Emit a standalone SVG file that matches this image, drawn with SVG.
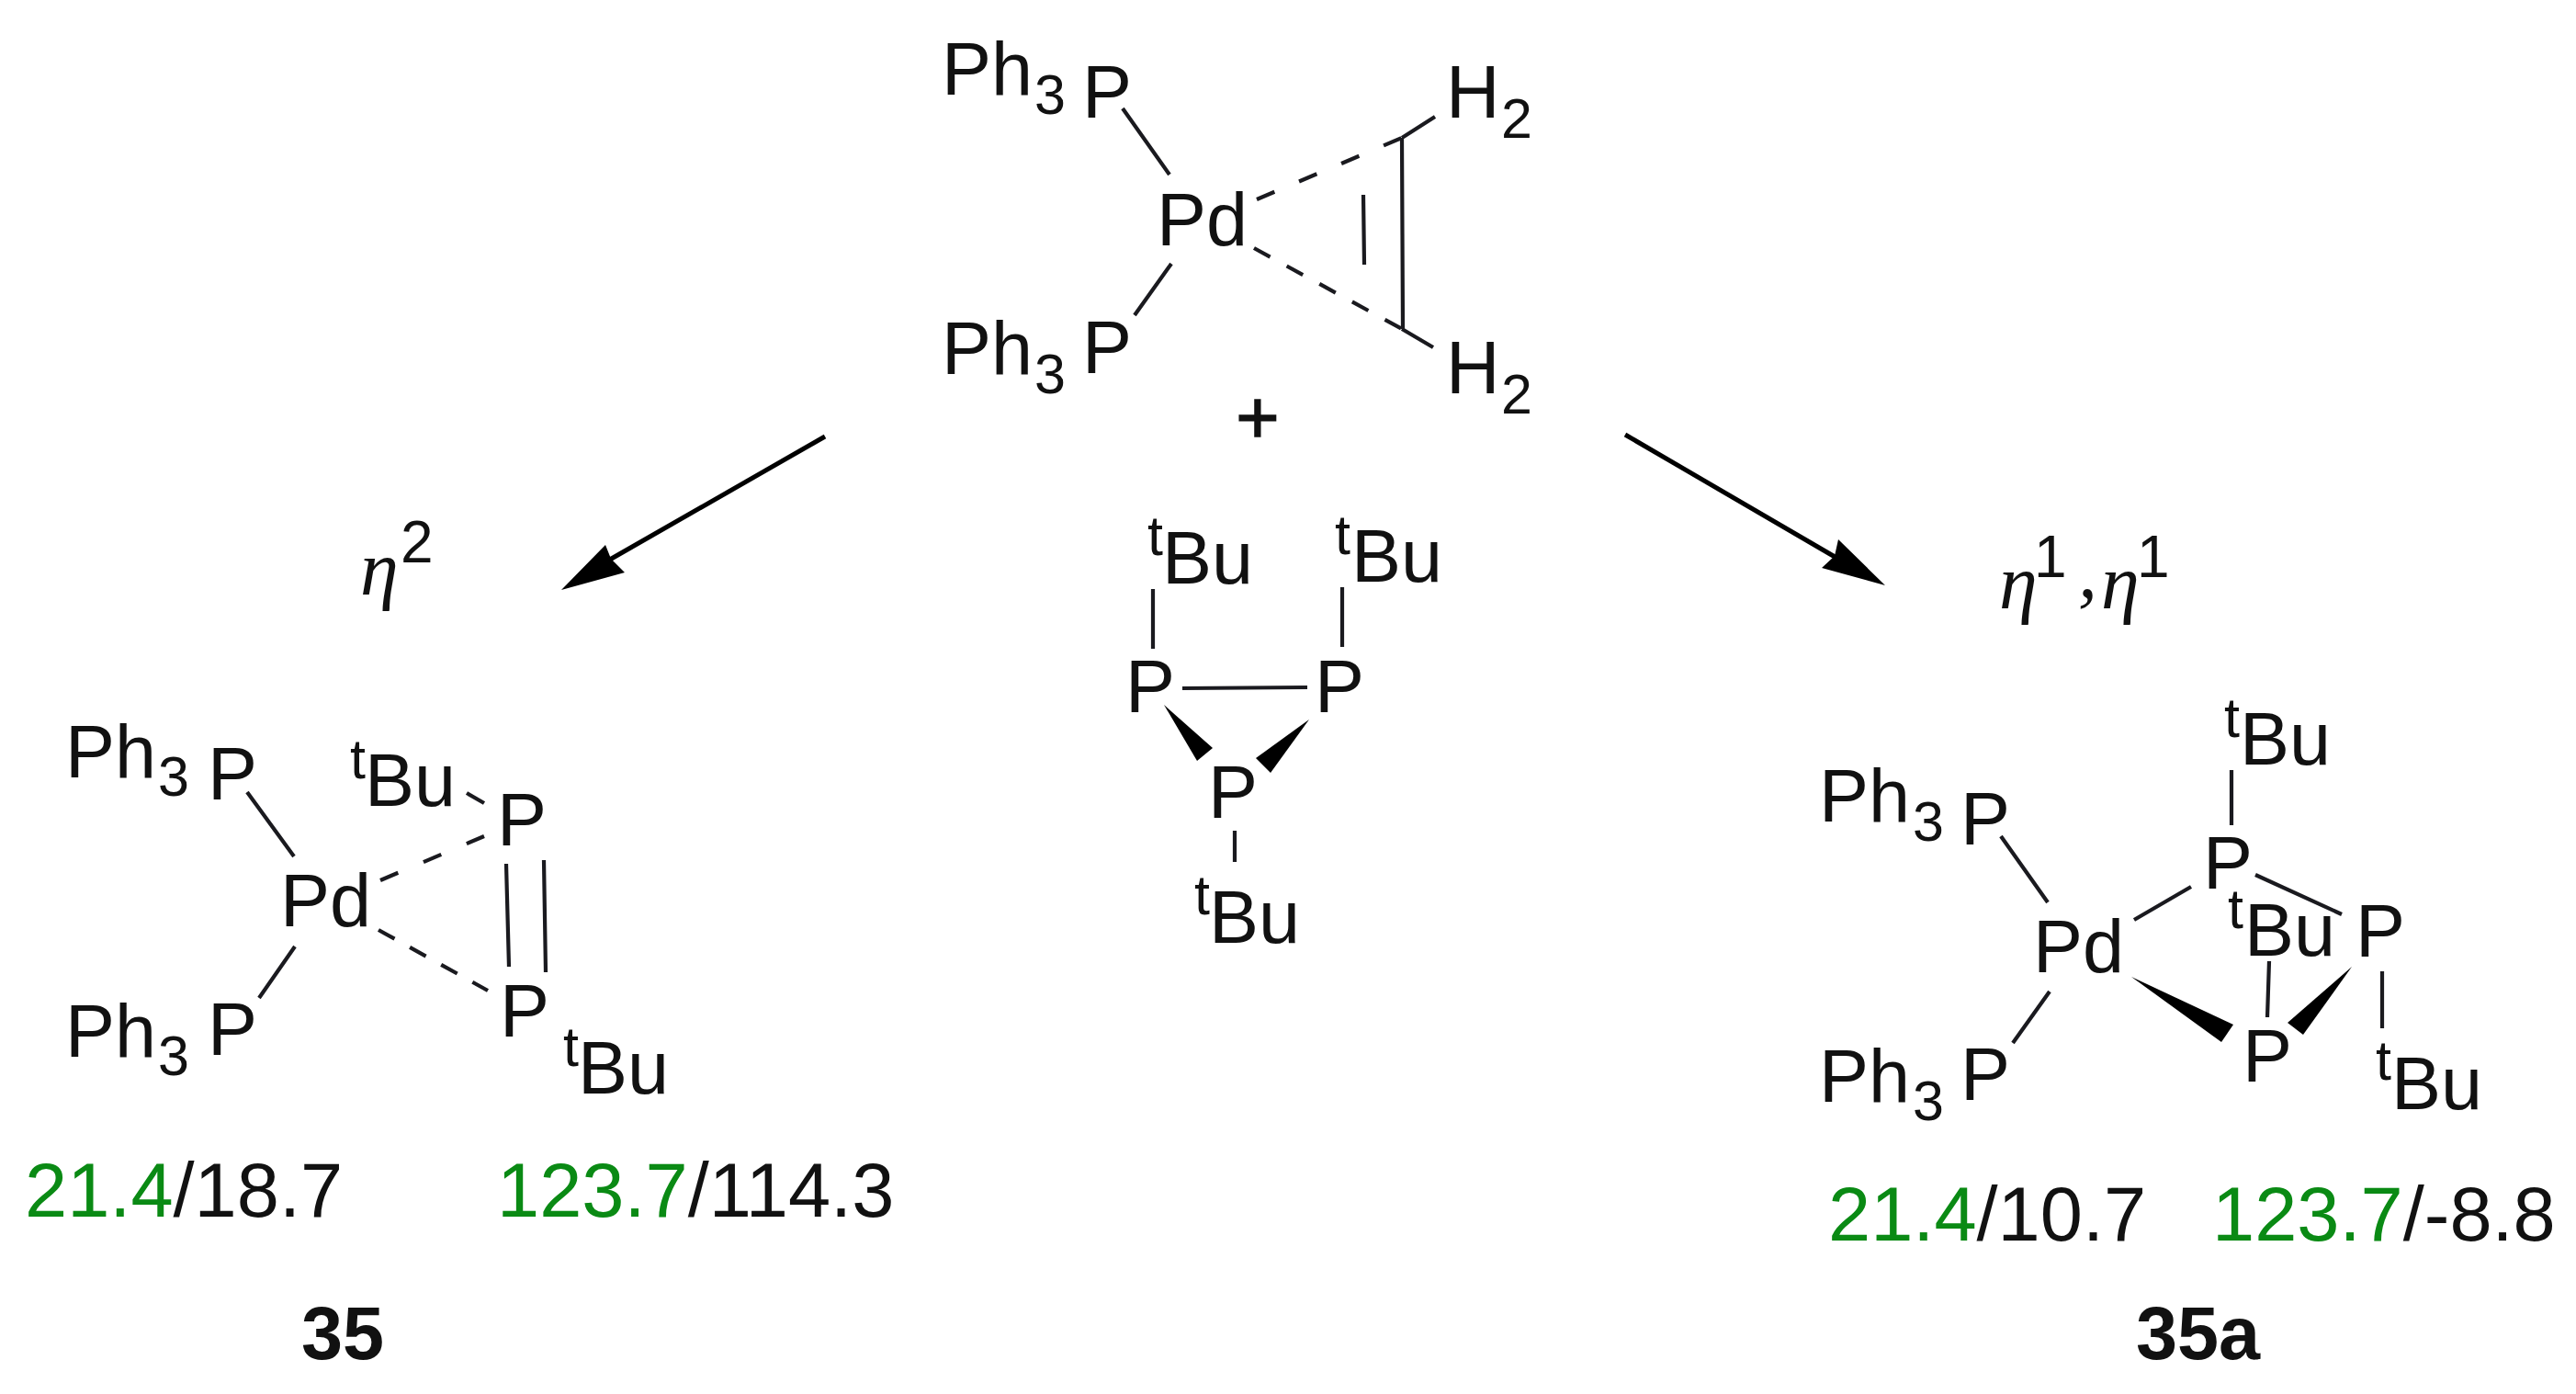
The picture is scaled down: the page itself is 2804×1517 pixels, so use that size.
<svg xmlns="http://www.w3.org/2000/svg" width="2804" height="1517" viewBox="0 0 2804 1517">
<style>
text{font-family:"Liberation Sans",Arial,sans-serif;fill:#111;font-size:81px}
.s{font-size:61px}
.u{font-size:64px}
.n{font-size:83px}
.g{fill:#0a8a14}
.b{font-weight:bold}
.p{stroke:#111;stroke-width:1.5}
.e{font-family:"Liberation Serif","DejaVu Serif",serif;font-style:italic;font-size:84px}
.bond{stroke:#1a1a1f;stroke-width:4.2;fill:none}
.arrow{stroke:#000;stroke-width:5;fill:none}
.wedge{fill:#000}
</style>
<rect width="2804" height="1517" fill="#fff"/>
<g id="connectors">
<path class="bond" d="M1222 118L1273 190M1275 287L1235 343M1526 150L1562 127M1526 358L1560 378M1526 150L1527 358M1484 212L1485 288"/>
<path class="bond" stroke-dasharray="21 29" d="M1368 217L1526 150"/>
<path class="bond" stroke-dasharray="20 20.6" d="M1365 270L1526 358"/>
<path class="bond" d="M1255 641V706M1461 639V704M1287 749L1423 748M1344 904V938"/>
<polygon class="wedge" points="1267,767 1320,814 1303,828"/>
<polygon class="wedge" points="1425,783 1367,825 1383,841"/>
<path class="bond" d="M269 862L320 932M321 1030L282 1086M551 940L554 1052M592 936L594 1058"/>
<path class="bond" d="M508 863L527 874"/>
<path class="bond" stroke-dasharray="21 30" d="M414 958L527 910"/>
<path class="bond" stroke-dasharray="20 19" d="M412 1012L531 1078"/>
<path class="bond" d="M2178 910L2229 982M2231 1079L2191 1135M2429 838V898M2323 1001L2385 965M2455 952L2549 995M2470 1046L2468 1107M2593 1057V1119"/>
<polygon class="wedge" points="2320,1063 2431,1115 2418,1134"/>
<polygon class="wedge" points="2560,1052 2490,1113 2507,1126"/>
<path class="arrow" d="M898 475L662 610"/>
<polygon class="wedge" points="611,642 659,593 665,608 680,623"/>
<path class="arrow" d="M1769 473L1999 607"/>
<polygon class="wedge" points="2052,637 2001,587 1997,605 1983,618"/>
</g>
<g id="reactant-pd">
<g id="r-pph3-top"><text x="1025" y="103">Ph</text><text class="s" x="1126" y="124">3</text><text x="1178" y="128">P</text></g>
<g id="r-pd"><text x="1259" y="267">Pd</text></g>
<g id="r-pph3-bottom"><text x="1025" y="407">Ph</text><text class="s" x="1126" y="428">3</text><text x="1178" y="406">P</text></g>
<g id="r-h2-top"><text x="1574" y="128">H</text><text class="s" x="1634" y="150">2</text></g>
<g id="r-h2-bottom"><text x="1574" y="428">H</text><text class="s" x="1634" y="450">2</text></g>
</g>
<g id="plus"><text class="p" x="1369" y="482" text-anchor="middle">+</text></g>
<g id="reactant-p3">
<g id="t-tbu-1"><text class="s" x="1249" y="604">t</text><text x="1265" y="635">Bu</text></g>
<g id="t-tbu-2"><text class="s" x="1453" y="603">t</text><text x="1471" y="633">Bu</text></g>
<g id="t-p-left"><text x="1225" y="775">P</text></g>
<g id="t-p-right"><text x="1431" y="775">P</text></g>
<g id="t-p-bottom"><text x="1315" y="890">P</text></g>
<g id="t-tbu-3"><text class="s" x="1300" y="995">t</text><text x="1316" y="1026">Bu</text></g>
</g>
<g id="eta2"><text class="e" x="392" y="647">η</text><text class="u" x="436" y="612">2</text></g>
<g id="eta11"><text class="e" x="2176" y="662">η</text><text class="u" x="2214" y="628">1</text><text class="e" x="2262" y="650">,</text><text class="e" x="2287" y="662">η</text><text class="u" x="2326" y="628">1</text></g>
<g id="product-35">
<g id="a-pph3-top"><text x="71" y="846">Ph</text><text class="s" x="172" y="866">3</text><text x="226" y="870">P</text></g>
<g id="a-pd"><text x="305" y="1008">Pd</text></g>
<g id="a-pph3-bottom"><text x="71" y="1150">Ph</text><text class="s" x="172" y="1170">3</text><text x="226" y="1148">P</text></g>
<g id="a-tbu-1"><text class="s" x="381" y="847">t</text><text x="397" y="877">Bu</text></g>
<g id="a-p-top"><text x="541" y="920">P</text></g>
<g id="a-p-bottom"><text x="544" y="1128">P</text></g>
<g id="a-tbu-2"><text class="s" x="613" y="1160">t</text><text x="629" y="1190">Bu</text></g>
<g id="a-shifts"><text class="n" x="27" y="1324"><tspan class="g">21.4</tspan>/18.7</text><text class="n" x="541" y="1324"><tspan class="g">123.7</tspan>/114.3</text></g>
<g id="a-label"><text class="b" x="328" y="1479">35</text></g>
</g>
<g id="product-35a">
<g id="b-pph3-top"><text x="1980" y="894">Ph</text><text class="s" x="2082" y="915">3</text><text x="2134" y="919">P</text></g>
<g id="b-pd"><text x="2213" y="1058">Pd</text></g>
<g id="b-pph3-bottom"><text x="1980" y="1199">Ph</text><text class="s" x="2082" y="1219">3</text><text x="2134" y="1197">P</text></g>
<g id="b-tbu-1"><text class="s" x="2421" y="802">t</text><text x="2438" y="832">Bu</text></g>
<g id="b-p-top"><text x="2398" y="967">P</text></g>
<g id="b-tbu-2"><text class="s" x="2425" y="1010">t</text><text x="2443" y="1040">Bu</text></g>
<g id="b-p-right"><text x="2564" y="1041">P</text></g>
<g id="b-p-bottom"><text x="2441" y="1177">P</text></g>
<g id="b-tbu-3"><text class="s" x="2586" y="1175">t</text><text x="2603" y="1207">Bu</text></g>
<g id="b-shifts"><text class="n" x="1990" y="1350"><tspan class="g">21.4</tspan>/10.7</text><text class="n" x="2408" y="1350"><tspan class="g">123.7</tspan>/-8.8</text></g>
<g id="b-label"><text class="b" x="2325" y="1479">35a</text></g>
</g>
</svg>
